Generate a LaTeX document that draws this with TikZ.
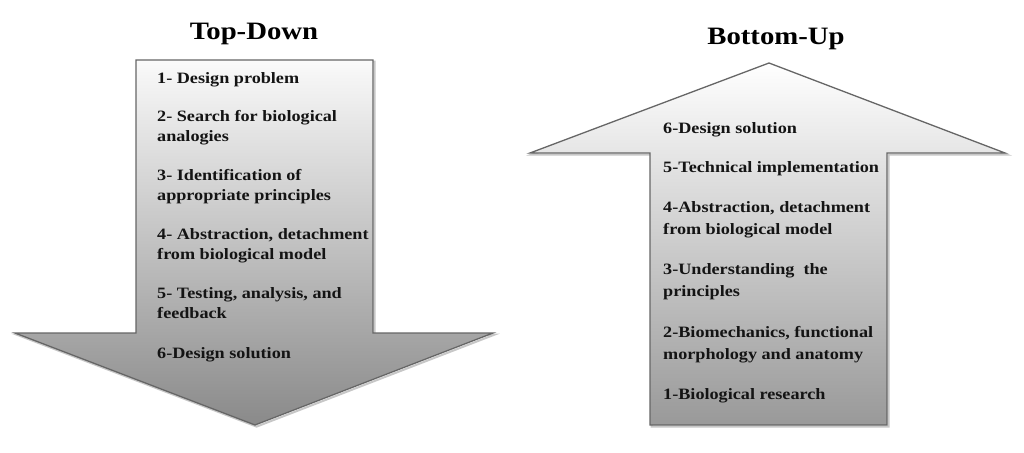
\documentclass[tikz,border=0pt]{standalone}
\usepackage{fontspec}
\setmainfont{Liberation Serif}[FakeStretch=1.15]
\begin{document}
\begin{tikzpicture}[x=1pt,y=-1pt,
  itemL/.style={anchor=base west, inner sep=0pt, align=left, text=black!92,
    font=\fontsize{15.8}{19.2}\selectfont\bfseries},
  itemR/.style={anchor=base west, inner sep=0pt, align=left, text=black!92,
    font=\fontsize{15.8}{22}\selectfont\bfseries},
  ttl/.style={anchor=base, inner sep=0pt, font=\fontsize{25}{30}\selectfont\bfseries},
  arrowline/.style={draw=black!60, line width=1.3pt, line join=miter},
  shadowline/.style={draw=black!22, line width=2pt, line join=miter}]
\useasboundingbox (0,0) rectangle (1024,452);
\fill[white] (0,0) rectangle (1024,452);

% Left arrow (Top-Down)
\draw[shadowline, shift={(1.6,1.6)}] (136,60) -- (373,60) -- (373,333) -- (493,333) -- (255,425) -- (15,333) -- (136,333) -- cycle;
\shade[top color=black!2, bottom color=black!46] (136,60) -- (373,60) -- (373,333) -- (493,333) -- (255,425) -- (15,333) -- (136,333) -- cycle;
\draw[arrowline] (136,60) -- (373,60) -- (373,333) -- (493,333) -- (255,425) -- (15,333) -- (136,333) -- cycle;

% Right arrow (Bottom-Up)
\draw[shadowline, shift={(1.6,1.6)}] (769,63) -- (1005,153) -- (887,153) -- (887,425) -- (650,425) -- (650,153) -- (530,153) -- cycle;
\shade[top color=white, bottom color=black!40] (769,63) -- (1005,153) -- (887,153) -- (887,425) -- (650,425) -- (650,153) -- (530,153) -- cycle;
\draw[arrowline] (769,63) -- (1005,153) -- (887,153) -- (887,425) -- (650,425) -- (650,153) -- (530,153) -- cycle;

% Titles
\node[ttl] (tdtitle) at (254,40) {Top-Down};
\node[ttl] (butitle) at (776,45) {Bottom-Up};

% Left items (anchor = baseline of last line)
\node[itemL] (l1) at (157,83) {1- Design problem};
\node[itemL] (l2) at (157,141) {2- Search for biological\\analogies};
\node[itemL] (l3) at (157,200) {3- Identification of\\appropriate principles};
\node[itemL] (l4) at (157,259) {4- Abstraction, detachment\\from biological model};
\node[itemL] (l5) at (157,318) {5- Testing, analysis, and\\feedback};
\node[itemL] (l6) at (157,358) {6-Design solution};

% Right items
\node[itemR] (r6) at (663,133) {6-Design solution};
\node[itemR] (r5) at (663,172) {5-Technical implementation};
\node[itemR] (r4) at (663,234) {4-Abstraction, detachment\\from biological model};
\node[itemR] (r3) at (663,296) {3-Understanding~ the\\principles};
\node[itemR] (r2) at (663,359) {2-Biomechanics, functional\\morphology and anatomy};
\node[itemR] (r1) at (663,399) {1-Biological research};
\end{tikzpicture}
\end{document}
